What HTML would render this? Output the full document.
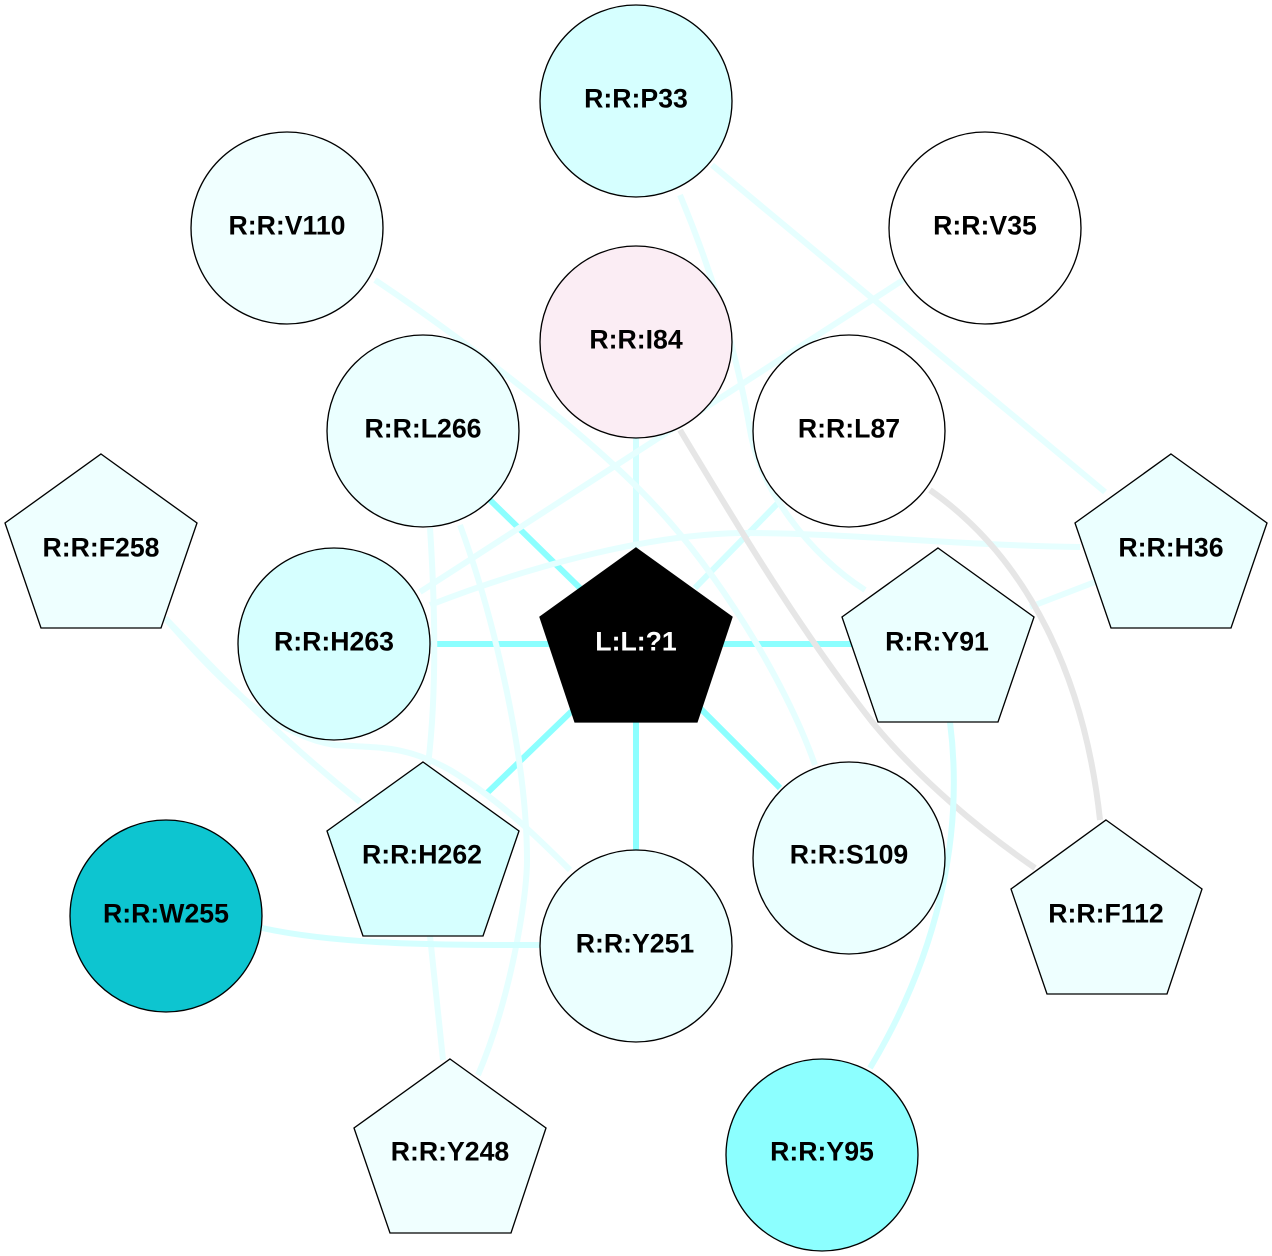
<!DOCTYPE html>
<html><head><meta charset="utf-8"><style>
html,body{margin:0;padding:0;background:#fff}
svg{display:block}
text{font-family:"Liberation Sans",Arial,sans-serif;font-weight:bold;font-size:26.67px;text-anchor:middle}
path{fill:none;stroke-width:6}
.n{stroke:#000;stroke-width:1.33}
</style></head><body>
<svg width="1272" height="1256" viewBox="0 0 1272 1256" xmlns="http://www.w3.org/2000/svg">
<rect width="1272" height="1256" fill="#fff"/>
<g stroke="#8cffff">
<path d="M490 500L580 588"/>
<path d="M431 644L550 644"/>
<path d="M722 644L855 644"/>
<path d="M485 795L575 708"/>
<path d="M636 722L636 850"/>
<path d="M700 708L780 788"/>
</g>
<g stroke="#d4ffff">
<path d="M636 438L636 548"/>
<path d="M778 503L695 588"/>
</g>
<g stroke="#e6ffff">
<path d="M680 195C705 255 735 340 750 430C760 490 810 555 865 590"/>
<path d="M375 280C450 330 570 420 640 490C715 565 785 680 815 765"/>
<path d="M903 280L420 592"/>
<path d="M1080 547C950 545 850 533 740 533C640 535 520 570 430 605"/>
<path d="M1095 582L1030 607"/>
<path d="M430 528C436 620 436 700 428 765"/>
<path d="M460 525C495 620 527 760 527 860C527 900 510 1000 478 1075"/>
<path d="M165 618C220 675 270 730 360 802"/>
<path d="M165 618C215 675 270 735 335 745C380 748 405 745 450 770C500 800 540 840 570 870"/>
<path d="M430 936L443 1060"/>
<path d="M712 165L1105 492"/>
</g>
<g stroke="#e6e6e6">
<path d="M680 430C740 530 800 630 873 723C920 780 980 830 1035 868"/>
<path d="M930 490C1030 560 1085 680 1100 820"/>
</g>
<g stroke="#d4ffff">
<path d="M262 928C340 945 440 945 540 945"/>
<path d="M950 722C965 840 935 960 870 1068"/>
</g>
<g class="n">
<circle cx="636" cy="101" r="96" fill="#d6ffff"/>
<circle cx="287" cy="228" r="96" fill="#f0ffff"/>
<circle cx="985" cy="228" r="96" fill="#ffffff"/>
<circle cx="636" cy="342" r="96" fill="#fbedf4"/>
<circle cx="423" cy="431" r="96" fill="#ebffff"/>
<circle cx="849" cy="431" r="96" fill="#ffffff"/>
<circle cx="334" cy="644" r="96" fill="#d6ffff"/>
<circle cx="849" cy="858" r="96" fill="#ebffff"/>
<circle cx="636" cy="946" r="96" fill="#ebffff"/>
<circle cx="166" cy="916" r="96" fill="#0dc5d0"/>
<circle cx="822" cy="1155" r="96" fill="#8cffff"/>
<polygon points="101,454 197,523 161,628 41,628 5,523" fill="#eeffff"/>
<polygon points="1171,454 1267,523 1231,628 1111,628 1075,523" fill="#ebffff"/>
<polygon points="636,548 732,617 697,722 575,722 540,617" fill="#000"/>
<polygon points="938,548 1034,617 998,722 878,722 842,617" fill="#ebffff"/>
<polygon points="423,762 519,831 483,936 363,936 327,831" fill="#d6ffff"/>
<polygon points="1106,820 1202,889 1167,994 1047,994 1011,889" fill="#eeffff"/>
<polygon points="450,1059 546,1128 511,1233 390,1233 354,1128" fill="#f0ffff"/>
</g>
<text x="636" y="107.3">R:R:P33</text>
<text x="287" y="234.3">R:R:V110</text>
<text x="985" y="234.3">R:R:V35</text>
<text x="636" y="348.3">R:R:I84</text>
<text x="423" y="437.3">R:R:L266</text>
<text x="849" y="437.3">R:R:L87</text>
<text x="101" y="556.3">R:R:F258</text>
<text x="1171" y="556.3">R:R:H36</text>
<text x="334" y="650.3">R:R:H263</text>
<text x="636" y="650.3" fill="#fff">L:L:?1</text>
<text x="937" y="650.3">R:R:Y91</text>
<text x="422" y="863.3">R:R:H262</text>
<text x="849" y="863.3">R:R:S109</text>
<text x="166" y="922.3">R:R:W255</text>
<text x="1106" y="922.3">R:R:F112</text>
<text x="635" y="952.3">R:R:Y251</text>
<text x="450" y="1160.3">R:R:Y248</text>
<text x="822" y="1160.3">R:R:Y95</text>
</svg>
</body></html>
